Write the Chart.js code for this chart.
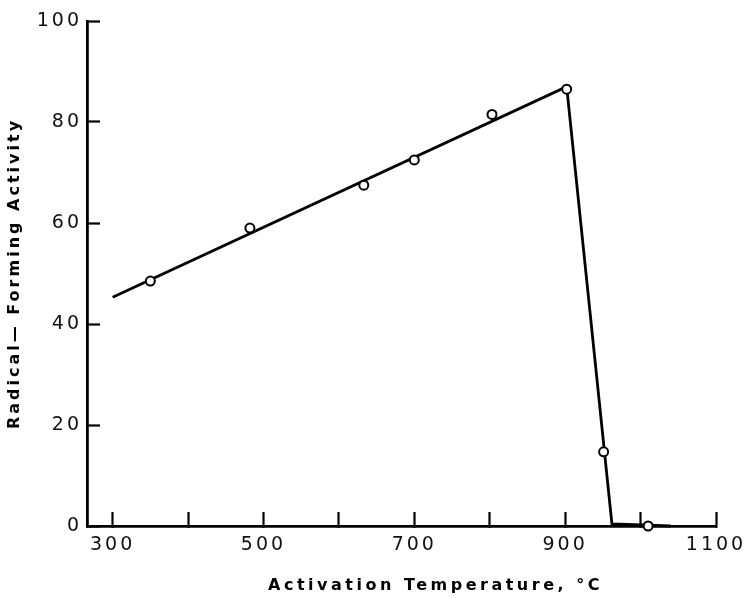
<!DOCTYPE html>
<html>
<head>
<meta charset="utf-8">
<script src="https://cdn.jsdelivr.net/npm/chart.js@4.4.0/dist/chart.umd.min.js"></script>
<style>
  html, body { margin: 0; padding: 0; background: #fff; }
  #wrap { width: 746px; height: 598px; }
</style>
</head>
<body>
<div id="wrap"><canvas id="chartCanvas"></canvas></div>
<script>
// measured points (temperature °C, activity)
const tempPoints = [350, 482, 633, 700, 803, 902, 951, 1010];
const activityPoints = [48.5, 59, 67.5, 72.5, 81.5, 86.5, 14.7, 0];

// fitted line through the data
const tempLine = [300, 902, 962, 1040];
const activityLine = [45.3, 87, 0.4, 0];

const xTicks = [300, 400, 500, 600, 700, 800, 900, 1000, 1100];
const yTicks = [0, 20, 40, 60, 80, 100];

const xTitle = 'Activation Temperature, °C';
const yTitle = 'Radical— Forming Activity';

// spaced-out lettering like the typed original, plus the x title a bit right of centre
const lettering = {
  id: 'lettering',
  beforeLayout(chart) { chart.ctx.letterSpacing = '3px'; },
  beforeDraw(chart) { chart.ctx.letterSpacing = '3px'; },
  afterDraw(chart) {
    const c = chart.ctx;
    const area = chart.chartArea;
    c.save();
    c.letterSpacing = '3.5px';
    c.font = 'bold 16px "DejaVu Sans"';
    c.fillStyle = '#000';
    c.textAlign = 'center';
    c.textBaseline = 'middle';
    c.fillText(xTitle, (area.left + area.right) / 2 + 34, chart.height - 12);
    c.restore();
  }
};

const ctx = document.getElementById('chartCanvas').getContext('2d');
new Chart(ctx, {
  type: 'scatter',
  data: {
    datasets: [
      {
        data: tempPoints.map((t, i) => ({ x: t, y: activityPoints[i] })),
        pointStyle: 'circle',
        pointRadius: 4.5,
        pointBorderWidth: 2,
        pointBackgroundColor: '#fff',
        pointBorderColor: '#000',
        showLine: false,
        clip: false
      },
      {
        data: tempLine.map((t, i) => ({ x: t, y: activityLine[i] })),
        showLine: true,
        borderColor: '#000',
        borderWidth: 2.8,
        pointRadius: 0,
        tension: 0,
        clip: false
      }
    ]
  },
  options: {
    responsive: true,
    maintainAspectRatio: false,
    animation: false,
    layout: { padding: 0 },
    plugins: { legend: { display: false }, tooltip: { enabled: false } },
    scales: {
      x: {
        type: 'linear',
        min: 266,
        max: 1100,
        afterBuildTicks: scale => { scale.ticks = xTicks.map(v => ({ value: v })); },
        afterFit: scale => {
          scale.height = 72;
          scale.paddingLeft = 0;
          scale.paddingRight = 30;
        },
        border: { display: true, color: '#000', width: 2.8 },
        grid: { drawOnChartArea: false, color: '#000', tickLength: -14, tickWidth: 2.2 },
        ticks: {
          padding: 22,
          color: '#111',
          font: { family: 'DejaVu Sans', size: 19 },
          maxRotation: 0,
          autoSkip: false,
          callback: v => (v % 200 === 100 ? String(v) : '')
        },
        title: { display: false }
      },
      y: {
        min: 0,
        max: 100,
        afterBuildTicks: scale => { scale.ticks = yTicks.map(v => ({ value: v })); },
        afterFit: scale => {
          scale.width = 87;
          scale.paddingTop = 21;
          scale.paddingBottom = 0;
        },
        border: { display: true, color: '#000', width: 2.8 },
        grid: { drawOnChartArea: false, color: '#000', tickLength: -13, tickWidth: 2.2 },
        ticks: {
          padding: 18,
          color: '#111',
          font: { family: 'DejaVu Sans', size: 19 }
        },
        title: {
          display: true,
          text: yTitle,
          color: '#000',
          font: { family: 'DejaVu Sans', size: 16, weight: 'bold' },
          padding: { top: 5, bottom: 0 }
        }
      }
    }
  },
  plugins: [lettering]
});
</script>
</body>
</html>
